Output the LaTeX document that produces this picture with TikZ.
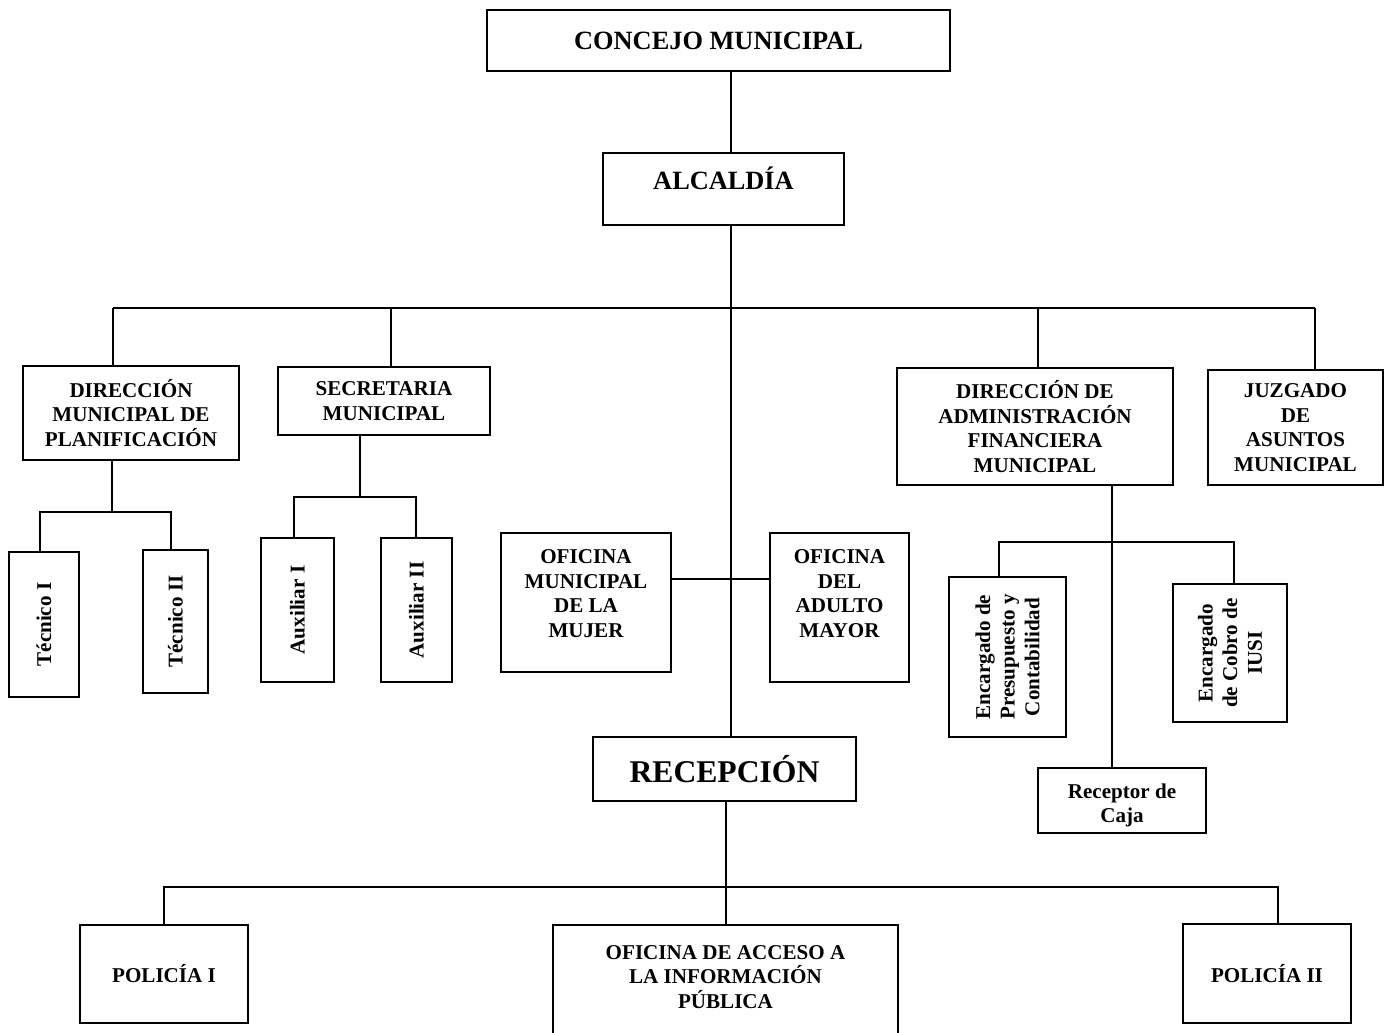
\documentclass[tikz,border=0pt]{standalone}
\usepackage{fontspec}
\setmainfont{Liberation Serif}
\usetikzlibrary{positioning}
\tikzset{
box/.style={ % every unit of the chart
draw,
line width=1.1pt,
inner sep=0pt,
align=center,
font=\bfseries\fontsize{12}{14}\selectfont},
vbox/.style={box, rotate=90}, % upright staff boxes
big/.style={font=\bfseries\fontsize{15}{17}\selectfont},
lbl/.style={ % text set off the middle of its box
inner sep=0pt,
align=center,
font=\bfseries\fontsize{12}{14}\selectfont},
wire/.style={line width=1pt}}

\begin{document}
\begin{tikzpicture}[x=0.02cm, y=-0.02cm]
\useasboundingbox (0,0) rectangle (1388,1032);
% top
\node[box, big, minimum width=9.26cm, minimum height=1.22cm] (concejo) at (718.5,40.5) {CONCEJO MUNICIPAL};
\node[box, minimum width=4.82cm, minimum height=1.44cm,
  label={[lbl, big, yshift=6.3pt]center:ALCALDÍA}] (alc) at (723.5,189) {};
% first level
\node[box, minimum width=4.32cm, minimum height=1.88cm] (planif) at (131,413) {DIRECCIÓN\\MUNICIPAL DE\\PLANIFICACIÓN};
\node[box, minimum width=4.24cm, minimum height=1.36cm] (secre) at (384,401) {SECRETARIA\\MUNICIPAL};
\node[box, minimum width=5.52cm, minimum height=2.34cm] (dafm) at (1035,426.5) {DIRECCIÓN DE\\ADMINISTRACIÓN\\FINANCIERA\\MUNICIPAL};
\node[box, minimum width=3.5cm, minimum height=2.3cm] (juzg) at (1295.5,427.5) {JUZGADO\\DE\\ASUNTOS\\MUNICIPAL};
% staff
\node[vbox, minimum width=2.9cm, minimum height=1.4cm] (tec1) at (44,624.5) {Técnico I};
\node[vbox, minimum width=2.86cm, minimum height=1.3cm] (tec2) at (175.5,621.5) {Técnico II};
\node[vbox, minimum width=2.88cm, minimum height=1.46cm] (aux1) at (297.5,610) {Auxiliar I};
\node[vbox, minimum width=2.88cm, minimum height=1.42cm] (aux2) at (416.5,610) {Auxiliar II};
\node[box, minimum width=3.4cm, minimum height=2.78cm,
  label={[lbl, yshift=5.1pt]center:OFICINA\\MUNICIPAL\\DE LA\\MUJER}] (mujer) at (586,602.5) {};
\node[box, minimum width=2.78cm, minimum height=2.98cm,
  label={[lbl, yshift=8pt]center:OFICINA\\DEL\\ADULTO\\MAYOR}] (adulto) at (839.5,607.5) {};
\node[vbox, minimum width=3.2cm, minimum height=2.34cm] (encp) at (1007.5,657) {Encargado de\\Presupuesto y\\Contabilidad};
\node[vbox, minimum width=2.76cm, minimum height=2.28cm] (encc) at (1230,653) {Encargado\\de Cobro de\\IUSI};
\node[box, minimum width=3.36cm, minimum height=1.3cm,
  label={[lbl, yshift=-2.8pt]center:Receptor de\\Caja}] (caja) at (1122,800.5) {};
\node[box, minimum width=5.26cm, minimum height=1.28cm, font=\bfseries\fontsize{18}{20}\selectfont] (recep) at (724.5,769) {RECEPCIÓN};
% bottom
\node[box, minimum width=3.36cm, minimum height=1.96cm] (pol1) at (164,974) {POLICÍA I};
\node[box, minimum width=6.9cm, minimum height=2.4cm,
  label={[lbl, yshift=4.6pt]center:OFICINA DE ACCESO A\\LA INFORMACIÓN\\PÚBLICA}] (acceso) at (725.5,985) {};
\node[box, minimum width=3.36cm, minimum height=1.98cm] (pol2) at (1267,973.5) {POLICÍA II};

% junctions
\coordinate (spine) at (731,308);
\coordinate (busL) at (113,308);
\coordinate (busR) at (1315,308);
\coordinate (secT) at (391,308);
\coordinate (dafT) at (1038,308);
\coordinate (plB) at (112,512);
\coordinate (t1) at (40,512);
\coordinate (t2) at (171,512);
\coordinate (seB) at (360,497);
\coordinate (a1) at (294,497);
\coordinate (a2) at (416,497);
\coordinate (mid) at (731,579);
\coordinate (dfB) at (1112,542);
\coordinate (e1) at (999,542);
\coordinate (e2) at (1234,542);
\coordinate (rcB) at (726,887);
\coordinate (p1) at (164,887);
\coordinate (p2) at (1278,887);

\draw[wire] (concejo.south -| spine) -- (alc.north -| spine);
\draw[wire] (alc.south -| spine) -- (recep.north -| spine);
\draw[wire] (busL) -- (busR);
\draw[wire] (busL) -- (busL |- planif.north);
\draw[wire] (secT) -- (secT |- secre.north);
\draw[wire] (dafT) -- (dafT |- dafm.north);
\draw[wire] (busR) -- (busR |- juzg.north);
\draw[wire] (planif.south -| plB) -- (plB);
\draw[wire] (t1 |- tec1.east) -- (t1) -- (t2) -- (t2 |- tec2.east);
\draw[wire] (secre.south -| seB) -- (seB);
\draw[wire] (a1 |- aux1.east) -- (a1) -- (a2) -- (a2 |- aux2.east);
\draw[wire] (mujer.east |- mid) -- (adulto.west |- mid);
\draw[wire] (dafm.south -| dfB) -- (caja.north -| dfB);
\draw[wire] (e1 |- encp.east) -- (e1) -- (e2) -- (e2 |- encc.east);
\draw[wire] (recep.south -| rcB) -- (acceso.north -| rcB);
\draw[wire] (p1 |- pol1.north) -- (p1) -- (p2) -- (p2 |- pol2.north);
\end{tikzpicture}
\end{document}
